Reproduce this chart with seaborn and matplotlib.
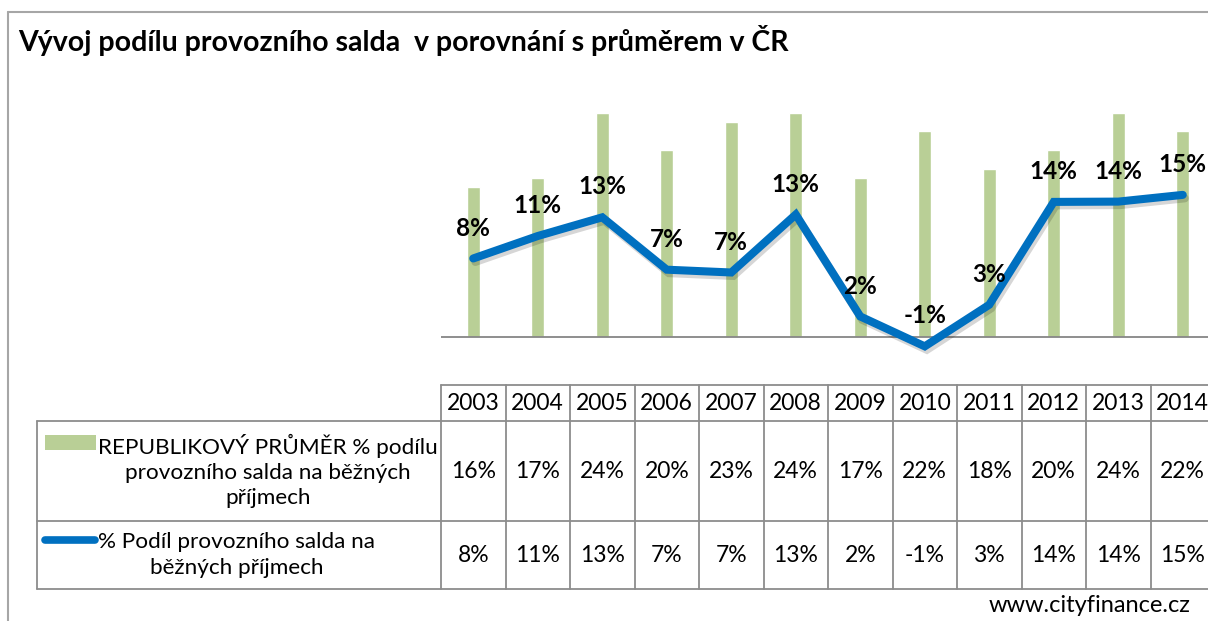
import numpy as np
import pandas as pd
import matplotlib
matplotlib.use("Agg")
import matplotlib.pyplot as plt
import matplotlib.patheffects as pe
from matplotlib.lines import Line2D
from matplotlib.patches import Rectangle
from matplotlib.transforms import blended_transform_factory
import seaborn as sns

# ---- data ----
years = ["2003", "2004", "2005", "2006", "2007", "2008", "2009", "2010", "2011", "2012", "2013", "2014"]
republic_avg = [16, 17, 24, 20, 23, 24, 17, 22, 18, 20, 24, 22]
share_saldo = [8.4, 10.8, 12.8, 7.2, 6.9, 13.1, 2.2, -1.0, 3.45, 14.45, 14.48, 15.2]
series_names = ["REPUBLIKOVÝ PRŮMĚR % podílu\nprovozního salda na běžných\npříjmech",
                "% Podíl provozního salda na\nběžných příjmech"]
title = "Vývoj podílu provozního salda  v porovnání s průměrem v ČR"
source = "www.cityfinance.cz"

BAR_C = "#B9CF96"
LINE_C = "#0070C0"
GRID_C = "#8C8C8C"

sns.set_theme(style="white")
plt.rcParams["font.family"] = ["Lato", "DejaVu Sans"]

W, H = 1208, 621
fig = plt.figure(figsize=(W / 100, H / 100), dpi=100)
fig.patch.set_facecolor("white")

def fy(py):
    return 1 - py / H

def fx(px):
    return px / W

def pct(v):
    return f"{v:.0f}%"

# plot area: x from 441 to 1215 px (cut at right), zero line at y=337, 9.35 px per %
ymin, ymax = -4, 26
ppu = 9.35
y0 = 337
top_px = y0 - ymax * ppu
bot_px = y0 - ymin * ppu
left_px, right_px = 441, 1215
ax = fig.add_axes([fx(left_px), fy(bot_px), fx(right_px - left_px), (bot_px - top_px) / H])
ax.set_facecolor("none")

df = pd.DataFrame({"year": years, "avg": republic_avg, "val": share_saldo, "pos": np.arange(len(years))})

sns.barplot(data=df, x="year", y="avg", color=BAR_C, width=0.2, saturation=1, ax=ax, zorder=2)
sns.lineplot(data=df, x="pos", y="val", color=LINE_C, linewidth=5.8, ax=ax, zorder=4,
             solid_capstyle="round", solid_joinstyle="miter",
             path_effects=[pe.SimpleLineShadow(offset=(1.5, -2.5), shadow_color="black", alpha=0.16),
                           pe.Normal()])

ax.set_xlim(-0.5, len(years) - 0.5)
ax.set_ylim(ymin, ymax)
ax.axhline(0, color="#868686", lw=1.3, zorder=3)
for s in ax.spines.values():
    s.set_visible(False)
ax.set_xticks([])
ax.set_yticks([])
ax.set_xlabel("")
ax.set_ylabel("")

for i, v in enumerate(share_saldo):
    ax.annotate(pct(v), (i, v), xytext=(0, 16.5), textcoords="offset points",
                ha="center", va="baseline", fontsize=17.5, fontweight="bold", color="black", zorder=5)

# ---- data table ----
tr = blended_transform_factory(ax.transData, fig.transFigure)
ytop, yhdr, yrow1, ybot = 385, 421, 521, 589
tbl_lw = 1.3
for k in range(len(years) + 1):
    xb = k - 0.5
    fig.add_artist(Line2D([xb, xb], [fy(ytop), fy(ybot)], transform=tr, color=GRID_C, lw=tbl_lw))
fig.add_artist(Line2D([-0.5, len(years) - 0.5], [fy(ytop), fy(ytop)], transform=tr, color=GRID_C, lw=tbl_lw))
for yy in (yhdr, yrow1, ybot):
    fig.add_artist(Line2D([fx(37), 1.2], [fy(yy), fy(yy)], transform=fig.transFigure, color=GRID_C, lw=tbl_lw))
fig.add_artist(Line2D([fx(37), fx(37)], [fy(yhdr), fy(ybot)], transform=fig.transFigure, color=GRID_C, lw=tbl_lw))

TFS = 16.5
LFS = 16.2
hdr_c = (ytop + yhdr) / 2
r1_c = (yhdr + yrow1) / 2
r2_c = (yrow1 + ybot) / 2
for i, yr in enumerate(years):
    fig.text(i, fy(hdr_c), yr, transform=tr, ha="center", va="center", fontsize=TFS, color="black")
    fig.text(i, fy(r1_c), pct(republic_avg[i]), transform=tr, ha="center", va="center", fontsize=TFS, color="black")
    fig.text(i, fy(r2_c), pct(share_saldo[i]), transform=tr, ha="center", va="center", fontsize=TFS, color="black")

# legend keys + row labels
fig.add_artist(Rectangle((fx(45), fy(450)), fx(96 - 45), (450 - 435) / H, transform=fig.transFigure,
                         facecolor=BAR_C, edgecolor="none"))
fig.add_artist(Line2D([fx(45), fx(95)], [fy(540), fy(540)], transform=fig.transFigure, color=LINE_C,
                      lw=5.5, solid_capstyle="round"))
fig.text(fx(98), fy(r1_c), series_names[0], ha="left", va="center", multialignment="center",
         fontsize=LFS, linespacing=1.32, color="black")
fig.text(fx(98), fy(r2_c), series_names[1], ha="left", va="center", multialignment="center",
         fontsize=LFS, linespacing=1.32, color="black")

# title and source
fig.text(fx(18), fy(51), title, ha="left", va="baseline", fontsize=20.5, fontweight="bold", color="black")
fig.text(fx(1190), fy(606), source, ha="right", va="center", fontsize=17, color="black")

# outer chart border
fig.add_artist(Line2D([fx(8), 1.0], [fy(12), fy(12)], transform=fig.transFigure, color="#A6A6A6", lw=1.5))
fig.add_artist(Line2D([fx(8), fx(8)], [fy(12), 0], transform=fig.transFigure, color="#A6A6A6", lw=1.5))

fig.savefig("out.png", dpi=100, facecolor="white")
